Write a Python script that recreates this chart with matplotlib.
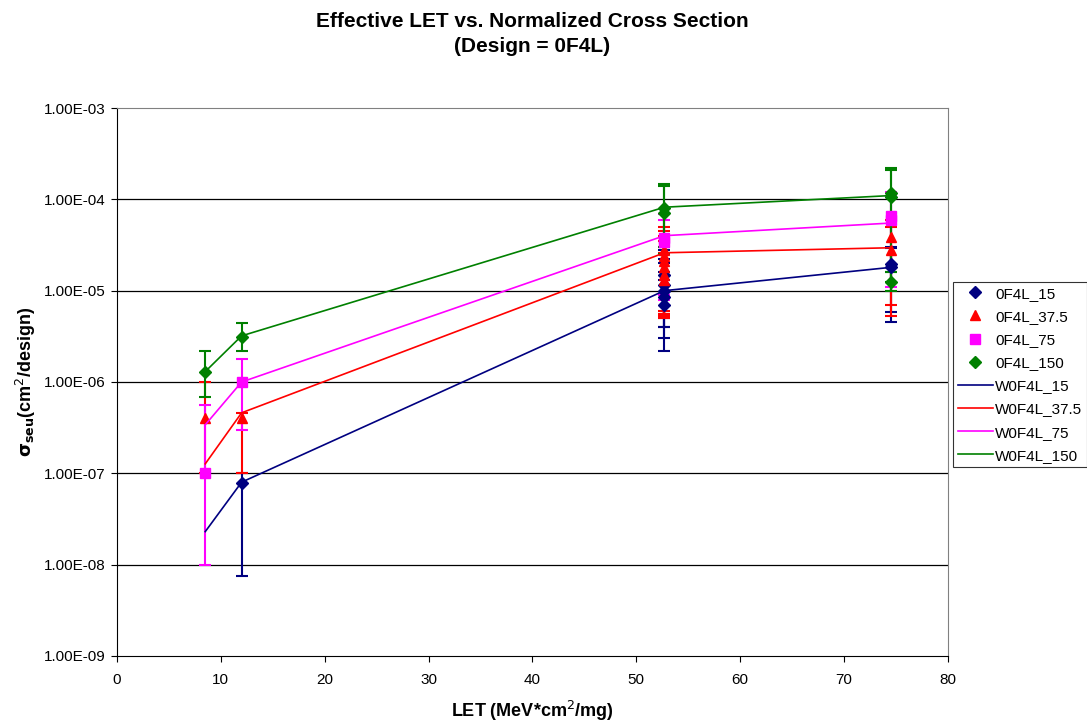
import numpy as np
import matplotlib.pyplot as plt
from matplotlib.lines import Line2D
from matplotlib.ticker import FixedLocator, FuncFormatter, NullLocator

plt.rcParams['font.family'] = ['Liberation Sans', 'DejaVu Sans']

# measured points (x = LET, y = cross section, lo/hi = error bar limits)
x15 = [12, 52.7, 52.7, 52.7, 52.7, 52.7, 74.5, 74.5]
y15 = [7.8e-8, 1.5e-5, 1.15e-5, 1.0e-5, 8.5e-6, 7.0e-6, 1.95e-5, 1.8e-5]
lo15 = [7.5e-9, 2.2e-6, 4.0e-6, 5.0e-6, 4.0e-6, 3.0e-6, 4.5e-6, 5.8e-6]
hi15 = [1.0e-7, 2.8e-5, 2.2e-5, 2.0e-5, 1.6e-5, 1.3e-5, 3.0e-5, 2.9e-5]

x37 = [8.5, 12, 52.7, 52.7, 52.7, 52.7, 52.7, 52.7, 74.5, 74.5]
y37 = [4.0e-7, 4.0e-7, 2.8e-5, 2.4e-5, 2.1e-5, 1.8e-5, 1.5e-5, 1.3e-5, 3.9e-5, 2.8e-5]
lo37 = [1.0e-7, 1.0e-7, 5.5e-6, 5.2e-6, 5.0e-6, 5.3e-6, 5.6e-6, 6.0e-6, 7.0e-6, 5.3e-6]
hi37 = [1.0e-6, 4.6e-7, 5.0e-5, 4.5e-5, 4.0e-5, 3.5e-5, 3.0e-5, 2.6e-5, 6.0e-5, 5.0e-5]

x75 = [8.5, 12, 52.7, 52.7, 74.5, 74.5]
y75 = [1.0e-7, 1.0e-6, 3.8e-5, 3.4e-5, 6.5e-5, 6.0e-5]
lo75 = [1.0e-8, 3.0e-7, 8.0e-6, 9.0e-6, 1.0e-5, 1.1e-5]
hi75 = [5.6e-7, 1.8e-6, 6.9e-5, 6.0e-5, 1.2e-4, 1.1e-4]

x150 = [8.5, 12, 52.7, 52.7, 74.5, 74.5, 74.5]
y150 = [1.3e-6, 3.1e-6, 8.0e-5, 7.0e-5, 1.17e-4, 1.05e-4, 1.25e-5]
lo150 = [6.9e-7, 2.2e-6, 2.5e-5, 3.0e-5, 1.6e-5, 1.25e-5, 1.0e-5]
hi150 = [2.2e-6, 4.4e-6, 1.47e-4, 1.4e-4, 2.2e-4, 2.1e-4, 1.6e-5]

# Weibull fit lines
xw = [8.5, 12, 52.7, 74.5]
w15 = [2.3e-8, 8.0e-8, 1.0e-5, 1.8e-5]
w37 = [1.27e-7, 4.6e-7, 2.6e-5, 2.95e-5]
w75 = [3.4e-7, 1.0e-6, 4.0e-5, 5.5e-5]
w150 = [1.3e-6, 3.2e-6, 8.2e-5, 1.1e-4]

navy = '#000080'
red = '#ff0000'
mag = '#ff00ff'
green = '#008000'

fig = plt.figure(figsize=(10.87, 7.23), dpi=100)
ax = fig.add_axes([0.1076, 0.0927, 0.7645, 0.7579])

for yv in [1e-8, 1e-7, 1e-6, 1e-5, 1e-4]:
    ax.axhline(yv, color='black', lw=0.9, zorder=0)

series = [
    (x15, y15, lo15, hi15, navy, 'D', 6),
    (x37, y37, lo37, hi37, red, '^', 7),
    (x75, y75, lo75, hi75, mag, 's', 7),
    (x150, y150, lo150, hi150, green, 'D', 6),
]
for xs, ys, lo, hi, c, m, ms in series:
    ys = np.array(ys)
    err = [ys - np.array(lo), np.array(hi) - ys]
    ax.errorbar(xs, ys, yerr=err, fmt=m, color=c, ms=ms, capsize=4,
                elinewidth=1.5, capthick=1.5, zorder=3)

for w, c in [(w15, navy), (w37, red), (w75, mag), (w150, green)]:
    ax.plot(xw, w, color=c, lw=1.2, zorder=4)

ax.set_yscale('log')
ax.set_ylim(1e-9, 1e-3)
ax.set_xlim(0, 80)
ax.set_xticks(range(0, 81, 10))
ax.yaxis.set_major_locator(FixedLocator([10.0 ** k for k in range(-9, -2)]))
ax.yaxis.set_minor_locator(NullLocator())
ax.yaxis.set_major_formatter(FuncFormatter(lambda v, p: '%.2E' % v))
ax.tick_params(axis='both', labelsize=11, direction='out', length=4)
ax.tick_params(axis='y', pad=4)
ax.tick_params(axis='x', pad=8)

for s in ['top', 'right']:
    ax.spines[s].set_color('#808080')

ax.set_xlabel('LET (MeV*cm$^2$/mg)', fontsize=13, fontweight='bold')
ax.set_ylabel(r'$\mathbf{\sigma_{seu}}$(cm$^2$/design)', fontsize=13, fontweight='bold')
ax.xaxis.set_label_coords(0.5, -0.078)
ax.yaxis.set_label_coords(-0.095, 0.5)

fig.text(0.4897, 0.953, 'Effective LET vs. Normalized Cross Section\n(Design = 0F4L)',
         ha='center', va='center', fontsize=15, fontweight='bold', linespacing=1.4)

handles = [
    Line2D([], [], ls='none', marker='D', color=navy, ms=6),
    Line2D([], [], ls='none', marker='^', color=red, ms=7),
    Line2D([], [], ls='none', marker='s', color=mag, ms=7),
    Line2D([], [], ls='none', marker='D', color=green, ms=6),
    Line2D([], [], color=navy, lw=1.2),
    Line2D([], [], color=red, lw=1.2),
    Line2D([], [], color=mag, lw=1.2),
    Line2D([], [], color=green, lw=1.2),
]
labels = ['0F4L_15', '0F4L_37.5', '0F4L_75', '0F4L_150',
          'W0F4L_15', 'W0F4L_37.5', 'W0F4L_75', 'W0F4L_150']
leg = fig.legend(handles, labels, loc='upper left', bbox_to_anchor=(0.877, 0.61),
                 fontsize=11, frameon=True, fancybox=False, edgecolor='black',
                 labelspacing=0.6, handlelength=2.3, handletextpad=0.15,
                 borderaxespad=0, borderpad=0.3)
leg.get_frame().set_linewidth(0.8)

fig.savefig('out.png', dpi=100)
